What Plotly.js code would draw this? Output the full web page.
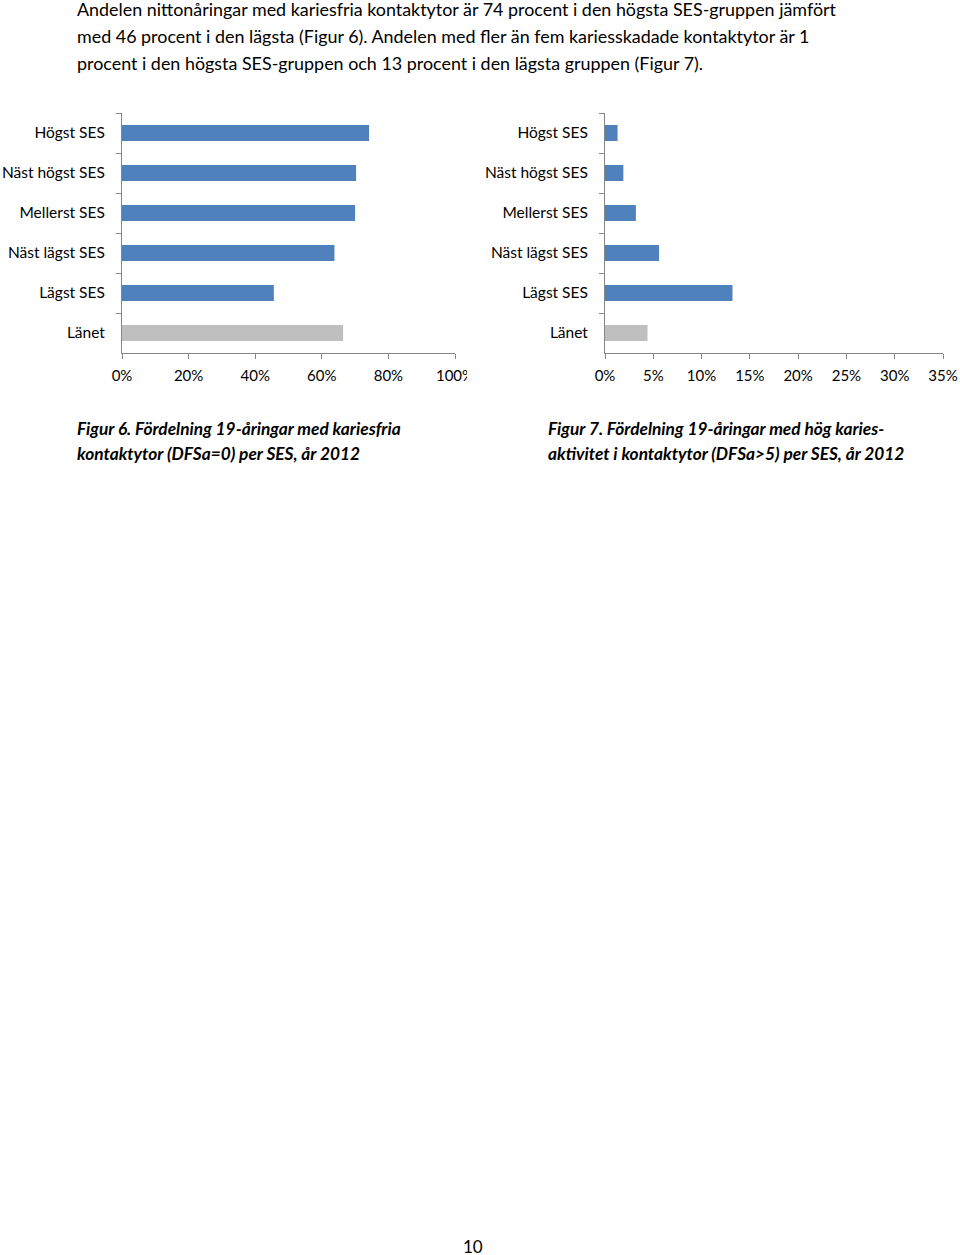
<!DOCTYPE html>
<html>
<head>
<meta charset="utf-8">
<script src="https://cdn.plot.ly/plotly-3.0.1.min.js"></script>
<style>
  html, body { margin: 0; padding: 0; background: #fff; }
  body { width: 960px; height: 1255px; position: relative; overflow: hidden; font-family: Lato, "Open Sans", sans-serif; color: #000; }
  .para { position: absolute; left: 77px; top: -4px; font-size: 17.9px; line-height: 27px; white-space: nowrap; }
  .cap { position: absolute; top: 416px; font-size: 17.3px; line-height: 25px; font-weight: bold; font-style: italic; white-space: nowrap; }
  .pnum { position: absolute; left: 463px; top: 1236px; font-size: 17px; }
  #fig6 { position: absolute; left: 0; top: 100px; width: 467px; height: 300px; }
  #fig7 { position: absolute; left: 480px; top: 100px; width: 480px; height: 300px; }
</style>
</head>
<body>
<div class="para">Andelen nittonåringar med kariesfria kontaktytor är 74 procent i den högsta SES-gruppen jämfört<br>med 46 procent i den lägsta (Figur 6). Andelen med fler än fem kariesskadade kontaktytor är 1<br>procent i den högsta SES-gruppen och 13 procent i den lägsta gruppen (Figur 7).</div>
<div id="fig6"></div>
<div id="fig7"></div>
<div class="cap" style="left:77px;">Figur 6. Fördelning 19-åringar med kariesfria<br>kontaktytor (DFSa=0) per SES, år 2012</div>
<div class="cap" style="left:548px;">Figur 7. Fördelning 19-åringar med hög karies-<br>aktivitet i kontaktytor (DFSa&gt;5) per SES, år 2012</div>
<div class="pnum">10</div>
<script>
const categories = ["Högst SES", "Näst högst SES", "Mellerst SES", "Näst lägst SES", "Lägst SES", "Länet"];
const kariesfria = [74.2, 70.3, 70.0, 63.8, 45.6, 66.4];
const hogKaries = [1.3, 1.9, 3.2, 5.6, 13.2, 4.4];
const barColors = ["#4F81BD", "#4F81BD", "#4F81BD", "#4F81BD", "#4F81BD", "#BFBFBF"];

const fontFam = "Lato, 'Open Sans', sans-serif";

function makeChart(id, values, xmax, dtick, margin, w) {
  const trace = {
    type: "bar",
    orientation: "h",
    x: values,
    y: categories,
    width: 0.4,
    marker: { color: barColors, line: { width: 0 } },
    hoverinfo: "none"
  };
  const layout = {
    width: w,
    height: 300,
    margin: margin,
    paper_bgcolor: "rgba(0,0,0,0)",
    plot_bgcolor: "rgba(0,0,0,0)",
    showlegend: false,
    font: { family: fontFam, size: 15, color: "#000" },
    xaxis: {
      range: [0, xmax],
      dtick: dtick,
      tick0: 0,
      ticksuffix: "%",
      showgrid: false,
      zeroline: false,
      showline: true,
      linecolor: "#868686",
      linewidth: 1,
      ticks: "outside",
      ticklen: 5,
      tickcolor: "#868686",
      ticklabelstandoff: 4,
      ticklabeloverflow: "allow",
      tickfont: { family: fontFam, size: 15, color: "#000" },
      fixedrange: true
    },
    yaxis: {
      type: "category",
      autorange: "reversed",
      tickson: "boundaries",
      showgrid: false,
      zeroline: false,
      showline: true,
      linecolor: "#868686",
      linewidth: 1,
      ticks: "outside",
      ticklen: 5,
      tickcolor: "#868686",
      ticklabelstandoff: 13,
      tickfont: { family: fontFam, size: 15.5, color: "#000" },
      fixedrange: true
    }
  };
  Plotly.newPlot(id, [trace], layout, { staticPlot: true, displayModeBar: false });
}

makeChart("fig6", kariesfria, 100, 20, { l: 122, r: 12, t: 13, b: 47, pad: 0 }, 467);
makeChart("fig7", hogKaries, 35, 5, { l: 125, r: 17, t: 13, b: 47, pad: 0 }, 480);
</script>
</body>
</html>
